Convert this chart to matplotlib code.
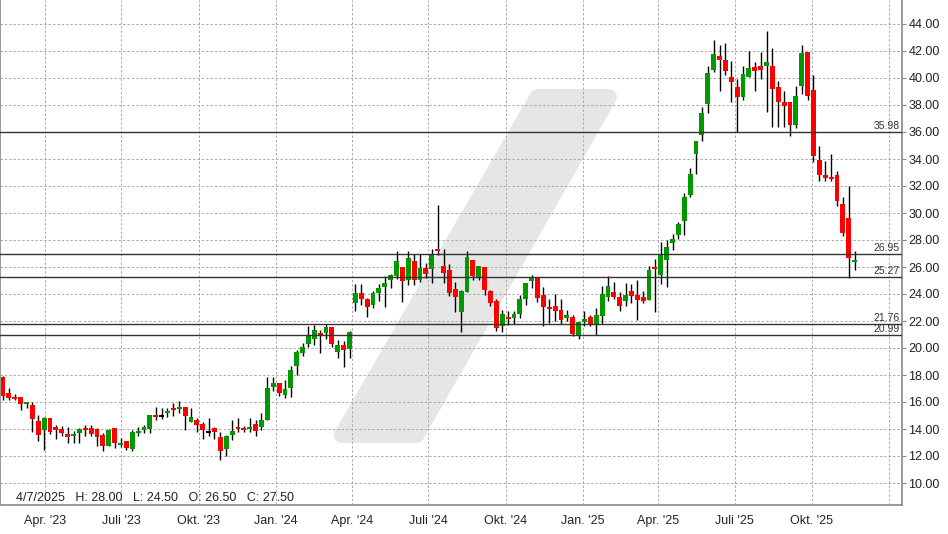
import numpy as np
import pandas as pd
import matplotlib
matplotlib.use("Agg")
import matplotlib.pyplot as plt
import matplotlib.dates as mdates
from matplotlib.patches import Polygon

plt.rcParams['font.family'] = ['Liberation Sans', 'DejaVu Sans']

# weekly candles (week ending friday)
dates = pd.date_range("2023-02-10", periods=146, freq="7D")

opens = [17.83, 16.69, 16.40, 16.35, 15.83, 15.80, 14.62, 13.95, 14.84, 14.17,
         14.02, 13.65, 13.50, 13.73, 14.10, 14.10, 14.02, 13.58, 12.72, 14.10,
         12.79, 13.14, 12.49, 13.73, 13.90, 14.02, 15.06, 14.95, 15.16, 15.58,
         15.50, 15.65, 14.54, 14.69, 14.40, 13.75, 14.10, 13.43, 12.54, 13.58,
         14.17, 14.10, 14.02, 14.40, 14.17, 14.69, 17.13, 17.43, 16.54, 17.06,
         18.69, 19.63, 20.30, 20.66, 21.14, 21.10, 21.55, 19.72, 20.24, 19.94,
         23.35, 24.08, 23.64, 23.20, 24.08, 24.53, 25.05, 25.32, 26.00, 25.05,
         26.46, 25.05, 25.94, 25.88, 27.34, 26.08, 25.79, 24.38, 22.70, 24.17,
         26.55, 25.15, 25.97, 24.25, 23.49, 21.64, 22.31, 22.24, 22.53, 23.64,
         24.97, 25.20, 23.94, 23.05, 23.12, 22.82, 22.24, 22.31, 20.97, 21.94,
         22.31, 21.79, 22.38, 23.79, 24.16, 23.79, 23.49, 24.25, 23.95, 23.80,
         23.58, 25.98, 25.43, 26.50, 27.80, 28.40, 29.43, 31.35, 34.40, 35.80,
         38.10, 40.60, 41.65, 41.36, 40.10, 39.36, 38.60, 40.10, 40.84, 40.90,
         40.90, 40.90, 39.36, 38.25, 38.20, 36.50, 39.40, 41.95, 39.10, 33.90,
         32.80, 32.65, 32.80, 30.70, 29.65, 26.40]

highs = [17.90, 17.06, 16.57, 16.40, 16.02, 16.00, 15.06, 14.86, 14.84, 14.32,
         14.20, 14.17, 13.83, 14.07, 14.27, 14.27, 14.05, 13.73, 14.02, 14.10,
         13.31, 13.14, 13.90, 14.17, 14.32, 15.06, 15.65, 15.55, 15.58, 15.90,
         16.10, 15.65, 15.55, 14.84, 14.54, 14.84, 14.17, 13.80, 13.58, 14.69,
         14.84, 14.25, 14.84, 14.69, 15.21, 17.88, 17.85, 17.43, 17.65, 18.70,
         19.88, 20.40, 21.60, 21.70, 21.30, 21.75, 21.55, 20.60, 20.50, 21.25,
         24.76, 24.76, 23.70, 24.24, 24.76, 25.35, 25.49, 27.20, 26.00, 27.20,
         26.98, 26.98, 26.31, 27.32, 30.60, 27.34, 26.20, 24.90, 24.30, 27.20,
         26.55, 26.10, 25.97, 24.31, 23.63, 22.82, 22.76, 22.76, 23.90, 24.82,
         25.42, 25.20, 24.53, 23.64, 24.00, 23.60, 22.80, 22.46, 21.95, 22.76,
         22.42, 22.95, 24.60, 25.35, 24.90, 24.16, 24.82, 24.77, 25.06, 24.25,
         26.07, 26.60, 27.88, 28.00, 28.47, 29.36, 31.50, 33.36, 35.36, 37.88,
         40.90, 42.84, 42.47, 42.60, 41.28, 39.95, 40.90, 42.00, 41.20, 41.95,
         43.50, 42.20, 39.80, 39.06, 38.20, 39.40, 42.47, 41.95, 40.20, 34.93,
         33.84, 34.40, 33.10, 31.20, 32.00, 27.15]

lows = [16.12, 16.12, 16.17, 15.43, 15.53, 13.75, 13.09, 12.47, 13.63, 13.28,
        13.50, 13.00, 13.00, 13.00, 13.46, 13.46, 12.77, 12.40, 12.72, 12.62,
        12.64, 12.42, 12.35, 13.46, 13.68, 13.68, 14.69, 14.75, 14.86, 14.99,
        15.21, 13.95, 14.54, 13.80, 13.28, 13.50, 13.28, 11.73, 12.00, 13.21,
        13.80, 13.80, 13.80, 13.50, 13.95, 14.69, 16.84, 16.47, 16.30, 16.35,
        18.03, 19.40, 20.05, 20.20, 19.60, 20.65, 20.10, 19.23, 18.60, 19.28,
        22.76, 23.20, 22.31, 22.98, 23.49, 23.05, 24.46, 25.08, 23.42, 24.68,
        24.68, 24.90, 25.20, 24.78, 26.90, 24.80, 23.88, 22.70, 21.20, 24.17,
        25.00, 25.00, 23.95, 23.12, 21.27, 21.20, 21.70, 21.80, 22.24, 23.20,
        24.46, 23.42, 21.64, 21.87, 22.00, 21.79, 22.00, 20.90, 20.68, 21.64,
        21.64, 20.95, 21.79, 23.50, 23.62, 22.76, 23.12, 23.30, 22.10, 23.36,
        23.58, 22.70, 24.77, 24.50, 27.28, 28.04, 28.40, 31.20, 32.86, 35.30,
        37.43, 40.47, 39.06, 40.25, 38.25, 36.00, 38.40, 40.10, 39.06, 39.90,
        37.45, 36.40, 36.40, 36.40, 35.73, 36.30, 38.80, 38.35, 33.75, 32.40,
        32.35, 32.35, 30.50, 28.30, 25.20, 25.75]

closes = [16.42, 16.27, 16.25, 15.83, 15.98, 14.77, 13.58, 14.79, 13.80, 13.95,
          13.73, 13.43, 13.65, 13.98, 13.95, 13.60, 13.38, 12.72, 13.90, 12.94,
          12.99, 12.57, 13.80, 13.88, 14.17, 15.06, 14.91, 14.95, 15.31, 15.43,
          15.65, 14.99, 14.91, 14.32, 13.95, 13.75, 13.80, 12.40, 13.51, 13.88,
          14.02, 13.95, 14.17, 13.88, 14.69, 17.06, 17.43, 16.69, 16.99, 18.40,
          19.73, 20.10, 20.99, 21.30, 20.99, 21.55, 20.28, 20.24, 19.86, 21.20,
          24.08, 23.64, 23.05, 24.08, 24.46, 24.83, 25.42, 26.46, 25.00, 26.69,
          25.05, 25.94, 25.49, 26.90, 27.20, 25.57, 24.08, 23.79, 24.22, 26.76,
          25.36, 26.05, 24.26, 23.35, 21.49, 22.53, 22.16, 22.53, 23.64, 24.82,
          25.20, 23.72, 23.05, 22.90, 22.76, 22.08, 22.46, 21.05, 21.94, 22.16,
          21.79, 22.46, 24.00, 24.60, 23.79, 23.12, 23.94, 23.88, 23.58, 23.50,
          25.80, 25.83, 26.91, 27.50, 28.10, 29.20, 31.20, 32.90, 35.36, 37.43,
          40.40, 41.80, 41.36, 40.54, 39.73, 38.60, 40.30, 40.77, 40.54, 40.60,
          41.20, 39.20, 38.25, 37.95, 36.50, 38.70, 41.87, 38.64, 34.20, 32.80,
          32.57, 32.50, 30.86, 28.55, 26.70, 26.54]

levels = [35.98, 26.95, 25.27, 21.76, 20.99]

tick_dates = ["2023-04-01", "2023-07-01", "2023-10-01", "2024-01-01", "2024-04-01",
              "2024-07-01", "2024-10-01", "2025-01-01", "2025-04-01", "2025-07-01",
              "2025-10-01", "2026-01-01"]
tick_labels = ["Apr. '23", "Juli '23", "Okt. '23", "Jan. '24", "Apr. '24", "Juli '24",
               "Okt. '24", "Jan. '25", "Apr. '25", "Juli '25", "Okt. '25", ""]

info_text = "4/7/2025   H: 28.00   L: 24.50   O: 26.50   C: 27.50"

W, H = 948, 534
fig = plt.figure(figsize=(W / 100, H / 100), dpi=100)
ax = fig.add_axes([0, (H - 505) / H, 902 / W, 505 / H])

x = mdates.date2num(dates)
o = np.array(opens)
c = np.array(closes)
hi = np.array(highs)
lo = np.array(lows)

colors = np.where(c > o, "#009900", np.where(c < o, "#ff0000", "#000000"))
bottom = np.minimum(o, c)
height = np.maximum(np.abs(c - o), 0.13)

ax.vlines(x, lo, hi, color="black", linewidth=1.0, zorder=2)
ax.bar(x, height, bottom=bottom - np.where(np.abs(c - o) < 0.13, 0.065, 0),
       width=5.8, color=colors, linewidth=0, zorder=3)

# support / resistance lines
for lv in levels:
    ax.axhline(lv, color="#333333", linewidth=1.0, zorder=4)
    ax.text(0.997, lv + 0.08, f"{lv:.2f}", transform=ax.get_yaxis_transform(),
            ha="right", va="bottom", fontsize=7.5, color="#333333", zorder=5)

# watermark
px = [537.6, 609.0, 416.5, 341.8]
py = [97, 97, 435, 435]
pts = [(a / W, 1 - b / H) for a, b in zip(px, py)]
wm = Polygon(pts, closed=True, transform=fig.transFigure, facecolor="#e6e6e6",
             edgecolor="#e6e6e6", linewidth=11.5, joinstyle="round", zorder=0.2)
ax.add_patch(wm)

# axes limits
x0 = mdates.date2num(pd.Timestamp("2023-04-01"))
x1 = mdates.date2num(pd.Timestamp("2026-01-01"))
ppd = (889 - 45) / (x1 - x0)
ax.set_xlim(x0 - 45 / ppd, x1 + 13 / ppd)
ax.set_ylim(44 - 481 / 13.5, 44 + 24 / 13.5)

ax.set_xticks(mdates.date2num(pd.to_datetime(tick_dates)))
ax.set_xticklabels(tick_labels)
ax.set_yticks(np.arange(10, 45, 2))
ax.yaxis.set_major_formatter(plt.FormatStrFormatter("%.2f"))
ax.yaxis.tick_right()

ax.tick_params(axis="x", length=0, pad=7, labelsize=9, labelcolor="#222222")
ax.tick_params(axis="y", length=3, pad=1.5, width=0.8, color="#888888",
               labelsize=9, labelcolor="#222222")

ax.grid(True, color="#aaaaaa", linestyle=(0, (2.5, 2)), linewidth=0.7)
ax.set_axisbelow(True)

for side in ["left", "right", "bottom"]:
    ax.spines[side].set_color("#888888")
    ax.spines[side].set_linewidth(1.2)
ax.spines["top"].set_visible(False)

ax.text(16 / 902, 7 / 505, info_text, transform=ax.transAxes, ha="left",
        va="center", fontsize=9, color="#222222", zorder=6)

fig.savefig("out.png", dpi=100, facecolor="white")
